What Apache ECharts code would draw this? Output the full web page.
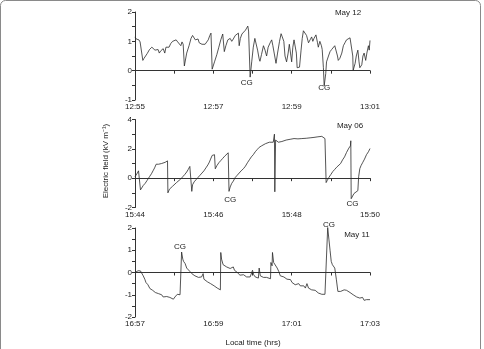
<!DOCTYPE html>
<html><head><meta charset="utf-8">
<script src="https://cdn.jsdelivr.net/npm/echarts@6.0.0/dist/echarts.min.js"></script>
<style>html,body{margin:0;padding:0;background:#fff}#c{width:484px;height:349px}</style>
</head><body><div id="c"></div>
<script>
// ---- Panel 1: May 12 (minutes after 12:55, kV/m)
const may12Time = [0.00,0.03,0.05,0.08,0.10,0.13,0.15,0.18,0.20,0.23,0.27,0.31,0.37,0.43,0.47,0.51,0.55,0.59,0.62,0.66,0.69,0.72,0.76,0.79,0.83,0.87,0.91,0.96,1.00,1.05,1.09,1.13,1.17,1.20,1.23,1.26,1.32,1.38,1.43,1.47,1.51,1.54,1.57,1.61,1.64,1.68,1.71,1.74,1.79,1.83,1.87,1.91,1.94,1.97,1.99,2.03,2.09,2.14,2.19,2.24,2.28,2.32,2.37,2.43,2.47,2.51,2.56,2.60,2.64,2.66,2.69,2.73,2.77,2.82,2.85,2.88,2.90,2.94,2.98,3.02,3.06,3.10,3.13,3.17,3.19,3.23,3.28,3.32,3.36,3.40,3.45,3.49,3.52,3.55,3.60,3.64,3.69,3.73,3.76,3.80,3.83,3.87,3.91,3.94,3.97,4.00,4.03,4.06,4.09,4.12,4.14,4.18,4.20,4.24,4.27,4.30,4.34,4.38,4.43,4.47,4.51,4.54,4.57,4.62,4.66,4.68,4.72,4.76,4.78,4.81,4.83,4.87,4.89,4.94,4.98,5.02,5.06,5.10,5.13,5.17,5.19,5.23,5.28,5.32,5.36,5.40,5.45,5.49,5.53,5.56,5.57,5.62,5.65,5.69,5.72,5.74,5.79,5.82,5.85,5.89,5.92,5.96,5.98,6.00];
const may12Field = [1.15,1.08,1.12,1.02,1.05,0.98,1.02,0.95,0.35,0.42,0.50,0.58,0.72,0.80,0.75,0.70,0.65,0.72,0.60,0.68,0.62,0.75,0.60,0.80,0.85,0.80,0.92,1.00,0.95,1.05,0.98,1.02,0.85,0.98,0.90,0.16,0.60,0.85,1.10,1.20,1.25,1.05,1.00,1.08,0.95,1.00,0.90,0.85,0.90,0.95,1.05,1.20,1.28,0.05,0.01,0.30,0.55,0.80,1.05,1.25,0.65,0.85,1.05,1.10,1.00,1.08,1.20,1.25,1.28,0.85,1.10,1.25,1.30,1.38,1.45,1.52,1.35,-0.22,0.30,0.80,1.10,1.15,0.70,0.40,0.32,0.55,0.85,0.70,0.50,0.80,0.95,1.05,0.85,0.80,0.25,0.60,1.00,1.26,1.15,1.00,0.50,0.30,0.60,0.90,0.60,0.30,0.80,1.05,1.10,0.60,0.10,0.15,0.12,0.70,1.10,1.36,1.30,1.20,0.95,1.05,1.15,1.00,1.10,1.22,0.95,0.80,1.00,0.85,0.72,0.10,-0.52,-0.10,0.30,0.50,0.65,0.72,0.78,0.85,0.82,0.50,0.35,0.42,0.60,0.85,0.95,1.05,1.10,1.12,1.17,0.50,0.01,0.25,0.50,0.70,0.30,0.10,0.20,0.50,0.60,0.35,0.60,0.85,0.70,1.03];

// ---- Panel 2: May 06 (minutes after 15:44)
const may06Time = [0.00,0.03,0.06,0.09,0.12,0.14,0.17,0.21,0.26,0.31,0.37,0.42,0.46,0.50,0.54,0.57,0.60,0.64,0.68,0.72,0.77,0.80,0.83,0.84,0.88,0.92,0.96,1.01,1.06,1.11,1.17,1.22,1.27,1.32,1.36,1.40,1.43,1.45,1.47,1.51,1.56,1.61,1.66,1.71,1.76,1.81,1.86,1.90,1.93,1.97,2.00,2.03,2.05,2.09,2.14,2.19,2.24,2.29,2.34,2.38,2.40,2.43,2.47,2.51,2.56,2.61,2.66,2.71,2.77,2.82,2.87,2.92,2.97,3.02,3.07,3.12,3.17,3.23,3.28,3.33,3.38,3.43,3.48,3.53,3.56,3.57,3.59,3.62,3.66,3.70,3.75,3.80,3.86,3.91,3.96,4.01,4.06,4.11,4.16,4.21,4.26,4.31,4.37,4.42,4.47,4.52,4.57,4.62,4.67,4.72,4.77,4.81,4.85,4.88,4.91,4.95,5.00,5.05,5.10,5.15,5.20,5.25,5.30,5.35,5.40,5.46,5.50,5.51,5.52,5.55,5.59,5.64,5.69,5.71,5.74,5.77,5.81,5.86,5.91,5.96,6.00];
const may06Field = [0.10,0.20,0.35,0.50,0.58,-0.80,-0.70,-0.50,-0.35,-0.15,0.10,0.30,0.50,0.70,0.95,0.90,0.95,0.92,1.00,0.98,1.08,1.12,1.18,-1.00,-0.75,-0.62,-0.55,-0.42,-0.30,-0.20,-0.05,0.10,0.25,0.42,0.60,0.80,0.93,-0.90,-0.45,-0.25,-0.10,0.05,0.20,0.35,0.50,0.70,0.90,1.10,1.30,1.55,1.62,1.60,0.64,0.85,1.05,1.20,1.35,1.50,1.62,1.73,-0.90,-0.60,-0.35,-0.20,0.05,0.20,0.35,0.50,0.65,0.82,1.05,1.25,1.45,1.60,1.80,1.95,2.10,2.20,2.30,2.35,2.42,2.45,2.48,2.45,3.00,-0.93,2.60,2.50,2.45,2.42,2.50,2.55,2.60,2.58,2.65,2.62,2.70,2.65,2.68,2.72,2.70,2.65,2.72,2.68,2.75,2.72,2.78,2.75,2.82,2.75,2.85,2.75,2.70,-0.30,-0.15,0.05,0.25,0.45,0.60,0.75,0.85,1.00,1.25,1.45,1.75,2.05,2.20,2.55,-1.40,-1.30,-1.05,-0.95,-0.85,0.10,0.65,0.85,1.05,1.30,1.60,1.80,2.02];

// ---- Panel 3: May 11 (minutes after 16:57)
const may11Time = [0.00,0.03,0.05,0.08,0.11,0.14,0.18,0.21,0.25,0.28,0.31,0.33,0.36,0.38,0.42,0.45,0.49,0.52,0.55,0.60,0.64,0.68,0.72,0.77,0.81,0.85,0.89,0.94,0.98,1.02,1.05,1.08,1.11,1.15,1.18,1.19,1.22,1.24,1.28,1.32,1.36,1.40,1.45,1.49,1.53,1.57,1.62,1.66,1.70,1.74,1.76,1.80,1.85,1.89,1.93,1.97,2.02,2.06,2.10,2.14,2.18,2.19,2.21,2.25,2.29,2.34,2.38,2.43,2.47,2.51,2.54,2.60,2.64,2.68,2.72,2.77,2.81,2.85,2.89,2.94,2.97,3.00,3.03,3.07,3.11,3.15,3.17,3.20,3.23,3.28,3.32,3.36,3.40,3.46,3.47,3.50,3.51,3.54,3.57,3.59,3.63,3.67,3.71,3.75,3.80,3.84,3.88,3.92,3.97,4.01,4.05,4.09,4.14,4.18,4.22,4.26,4.31,4.35,4.39,4.43,4.47,4.51,4.55,4.60,4.64,4.68,4.72,4.77,4.81,4.85,4.89,4.92,4.95,4.98,5.01,5.04,5.07,5.10,5.14,5.18,5.21,5.25,5.29,5.34,5.37,5.40,5.45,5.49,5.53,5.57,5.62,5.66,5.70,5.74,5.78,5.81,5.85,5.88,5.91,5.96,6.00];
const may11Field = [0.00,0.05,0.02,0.08,0.05,0.07,0.00,-0.15,-0.30,-0.45,-0.40,-0.55,-0.50,-0.72,-0.65,-0.80,-0.78,-0.90,-0.88,-0.95,-1.02,-1.00,-1.10,-1.12,-1.08,-1.15,-1.12,-1.18,-1.20,-1.10,-1.15,-0.98,-0.95,-1.00,-0.92,0.92,0.60,0.50,0.40,0.20,0.12,0.05,-0.05,-0.10,-0.15,-0.20,-0.22,-0.28,-0.20,-0.05,-0.30,-0.35,-0.42,-0.38,-0.50,-0.45,-0.60,-0.55,-0.70,-0.72,-0.78,0.90,0.60,0.35,0.30,0.25,0.20,0.18,0.15,0.25,0.10,0.02,-0.05,-0.12,-0.08,-0.10,-0.18,-0.20,-0.12,-0.20,-0.28,0.10,-0.10,-0.20,-0.22,-0.25,0.20,-0.15,-0.20,-0.22,-0.25,-0.22,-0.30,-0.28,0.45,0.30,0.90,0.45,0.38,0.45,0.20,0.05,-0.15,-0.22,-0.20,-0.28,-0.30,-0.35,-0.32,-0.45,-0.48,-0.55,-0.52,-0.50,-0.60,-0.65,-0.60,-0.70,-0.50,-0.70,-0.75,-0.78,-0.85,-0.80,-0.88,-0.92,-0.95,-0.98,-1.00,-0.98,-1.05,2.02,1.50,1.00,0.50,0.35,0.38,0.20,-0.30,-0.85,-0.88,-0.85,-0.80,-0.78,-0.72,-0.80,-0.85,-0.90,-0.95,-1.00,-1.05,-1.10,-1.12,-1.15,-1.20,-1.12,-1.25,-1.18,-1.22,-1.20,-1.22];

// tick labels (one per minute tick; blank = unlabeled tick)
const may12Ticks = ['12:55','','12:57','','12:59','','13:01'];
const may06Ticks = ['15:44','','15:46','','15:48','','15:50'];
const may11Ticks = ['16:57','','16:59','','17:01','','17:03'];
const panelDates = ['May 12','May 06','May 11'];

// CG annotation anchors (minutes, kV/m) and label pixel offset
const may12CG = [[2.85,-0.43,0],[4.83,-0.57,0]];
const may06CG = [[2.43,-1.45,0],[5.55,-1.73,0]];
const may11CG = [[1.15,1.16,0],[4.95,2.0,-3]];

const yRanges = [[-1,2,0.5],[-2,4,1],[-2,2,0.5]];
const grids = [
  {left:135, top:12, width:235, height:88},
  {left:135, top:119.5, width:235, height:88},
  {left:135, top:228, width:235, height:89}
];
const tickSets = [may12Ticks, may06Ticks, may11Ticks];
const seriesData = [[may12Time, may12Field],[may06Time, may06Field],[may11Time, may11Field]];
const cgSets = [may12CG, may06CG, may11CG];

const FONT = 'Liberation Sans, Arial, Helvetica, sans-serif';
const AX = '#333';
const chart = echarts.init(document.getElementById('c'), null, {renderer:'canvas'});

const xAxis = grids.map((g,i)=>({
  type:'value', gridIndex:i, min:0, max:6, interval:1,
  axisLine:{show:true, lineStyle:{color:AX, width:1}},
  axisTick:{show:true, length:3, lineStyle:{color:AX}},
  axisLabel:{fontSize:8, fontFamily:FONT, color:'#222', margin:3, formatter:(v)=>tickSets[i][Math.round(v)]||''},
  splitLine:{show:false}
}));
const yAxis = grids.map((g,i)=>({
  type:'value', gridIndex:i, min:yRanges[i][0], max:yRanges[i][1], interval:yRanges[i][2],
  axisLine:{show:true, lineStyle:{color:AX, width:1}},
  axisTick:{show:true, length:3, lineStyle:{color:AX}},
  axisLabel:{fontSize:8, fontFamily:FONT, color:'#222', margin:3,
    formatter:(v)=>{ if (i===1) return (Math.round(v)%2===0)? String(v):''; return Number.isInteger(v)? String(v):''; }},
  splitLine:{show:false}
}));
const series = seriesData.map((d,i)=>({
  type:'line', xAxisIndex:i, yAxisIndex:i, showSymbol:false, symbol:'none',
  data:d[0].map((t,k)=>[t,d[1][k]]),
  lineStyle:{color:'#2a2a2a', width:0.8},
  animation:false, clip:false,
  markPoint:{
    symbol:'circle', symbolSize:1, itemStyle:{color:'rgba(0,0,0,0)'},
    label:{show:true, formatter:'CG', position:'inside', fontSize:8, fontFamily:FONT, color:'#222'},
    data:cgSets[i].map(c=>({coord:[c[0],c[1]], label:{offset:[0,c[2]]}}))
  }
}));

const dateGraphics = [[348,12.5],[350,126],[357,235]].map((p,i)=>({
  type:'text', x:p[0], y:p[1],
  style:{text:panelDates[i], fill:'#222', font:'8px '+FONT, textAlign:'center', textVerticalAlign:'middle'}
}));

chart.setOption({
  animation:false,
  backgroundColor:'#fff',
  grid:grids,
  xAxis:xAxis, yAxis:yAxis, series:series,
  graphic:[
    {type:'rect', shape:{x:0.5, y:0.5, width:480, height:372, r:5}, style:{fill:'none', stroke:'#8a8a8a', lineWidth:1}},
    ...dateGraphics,
    {type:'text', x:106, y:161, rotation:Math.PI/2,
      style:{text:'Electric field (kV m\u207B\u00B9)', fill:'#222', font:'8px '+FONT, textAlign:'center', textVerticalAlign:'middle'}},
    {type:'text', x:253, y:343,
      style:{text:'Local time (hrs)', fill:'#222', font:'8px '+FONT, textAlign:'center', textVerticalAlign:'middle'}}
  ]
});
</script></body></html>
